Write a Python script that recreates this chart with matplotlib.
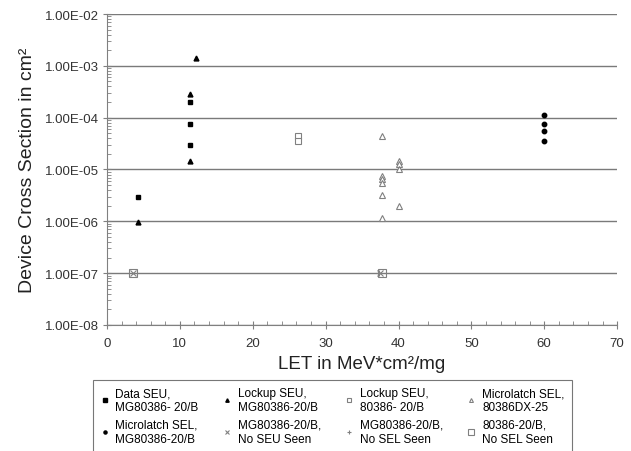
import numpy as np
import matplotlib
matplotlib.use('Agg')
import matplotlib.pyplot as plt
from matplotlib.ticker import FuncFormatter, LogLocator, MultipleLocator

# data
data_seu_x = [4.2, 11.4, 11.4, 11.4]
data_seu_y = [3.0e-6, 2.05e-4, 7.4e-5, 3.0e-5]

lock_mg_x = [4.2, 11.4, 11.4, 12.2]
lock_mg_y = [9.5e-7, 2.9e-4, 1.45e-5, 1.4e-3]

lock_386_x = [26.2, 26.2]
lock_386_y = [4.5e-5, 3.6e-5]

ml_dx_x = [37.7, 37.7, 37.7, 37.7, 37.7, 37.7, 40.0, 40.0, 40.0, 40.0]
ml_dx_y = [4.5e-5, 7.6e-6, 6.5e-6, 5.6e-6, 3.2e-6, 1.15e-6, 1.45e-5, 1.3e-5, 1.0e-5, 1.96e-6]

ml_mg_x = [59.9, 59.9, 59.9, 59.9]
ml_mg_y = [1.14e-4, 7.4e-5, 5.6e-5, 3.5e-5]

noseu_mg_x = [3.5, 37.5]
noseu_mg_y = [1e-7, 1e-7]

nosel_mg_x = [37.3]
nosel_mg_y = [1e-7]

nosel_386_x = [3.5, 37.8]
nosel_386_y = [1e-7, 1e-7]

labels = ['Data SEU,\nMG80386- 20/B', 'Lockup SEU,\nMG80386-20/B',
          'Lockup SEU,\n80386- 20/B', 'Microlatch SEL,\n80386DX-25',
          'Microlatch SEL,\nMG80386-20/B', 'MG80386-20/B,\nNo SEU Seen',
          'MG80386-20/B,\nNo SEL Seen', '80386-20/B,\nNo SEL Seen']

plt.rcParams['font.family'] = ['Liberation Sans', 'DejaVu Sans']

fig = plt.figure(figsize=(6.31, 4.52), dpi=100)
ax = fig.add_axes([0.1696, 0.2788, 0.8084, 0.688])

gray = '#808080'
h = []
h.append(ax.plot(data_seu_x, data_seu_y, 's', color='black', ms=3.5, ls='none')[0])
h.append(ax.plot(lock_mg_x, lock_mg_y, '^', color='black', ms=3.5, ls='none')[0])
h.append(ax.plot(lock_386_x, lock_386_y, 's', mfc='white', mec=gray, mew=0.8, ms=4, ls='none')[0])
h.append(ax.plot(ml_dx_x, ml_dx_y, '^', mfc='white', mec=gray, mew=0.8, ms=4, ls='none')[0])
h.append(ax.plot(ml_mg_x, ml_mg_y, 'o', color='black', ms=3.2, ls='none')[0])
h.append(ax.plot(noseu_mg_x, noseu_mg_y, 'x', color=gray, ms=4, mew=0.8, ls='none')[0])
h.append(ax.plot(nosel_mg_x, nosel_mg_y, '+', color=gray, ms=4, mew=0.8, ls='none')[0])
h.append(ax.plot(nosel_386_x, nosel_386_y, 's', mfc='none', mec=gray, mew=0.8, ms=6, ls='none')[0])

ax.set_yscale('log')
ax.set_ylim(1e-8, 1e-2)
ax.set_xlim(0, 70)
ax.yaxis.set_major_locator(LogLocator(base=10, numticks=10))
ax.yaxis.set_minor_locator(LogLocator(base=10, subs=np.arange(2, 10), numticks=10))
ax.yaxis.set_major_formatter(FuncFormatter(lambda v, p: '%.2E' % v))
ax.xaxis.set_major_locator(MultipleLocator(10))
ax.xaxis.set_minor_locator(MultipleLocator(2))

ax.grid(axis='y', which='major', color='#7a7a7a', lw=1)
for s in ['top', 'right']:
    ax.spines[s].set_visible(False)
for s in ['left', 'bottom']:
    ax.spines[s].set_color(gray)
ax.tick_params(which='both', colors=gray, labelcolor='#333333', labelsize=9.5)
ax.tick_params(axis='y', which='major', direction='inout', length=6, pad=3)
ax.tick_params(axis='y', which='minor', direction='in', length=3)
ax.tick_params(axis='x', which='major', direction='inout', length=6, pad=6)
ax.tick_params(axis='x', which='minor', direction='in', length=3)
ax.set_axisbelow(True)

ax.set_ylabel('Device Cross Section in cm²', fontsize=14, color='#222222', labelpad=6)
ax.set_xlabel('LET in MeV*cm²/mg', fontsize=13.5, color='#222222', labelpad=4)

order = [0, 4, 1, 5, 2, 6, 3, 7]
leg = fig.legend([h[i] for i in order], [labels[i] for i in order], ncol=4,
                 loc='upper left', bbox_to_anchor=(93 / 631, 1 - 381 / 452),
                 borderaxespad=0, fontsize=8.5, frameon=True, fancybox=False,
                 handlelength=0.8, handletextpad=0.5, columnspacing=2.0,
                 borderpad=0.6, labelspacing=0.5, markerscale=0.7)
leg.get_frame().set_edgecolor('#555555')
leg.get_frame().set_linewidth(0.8)

fig.savefig('out.png', dpi=100)
